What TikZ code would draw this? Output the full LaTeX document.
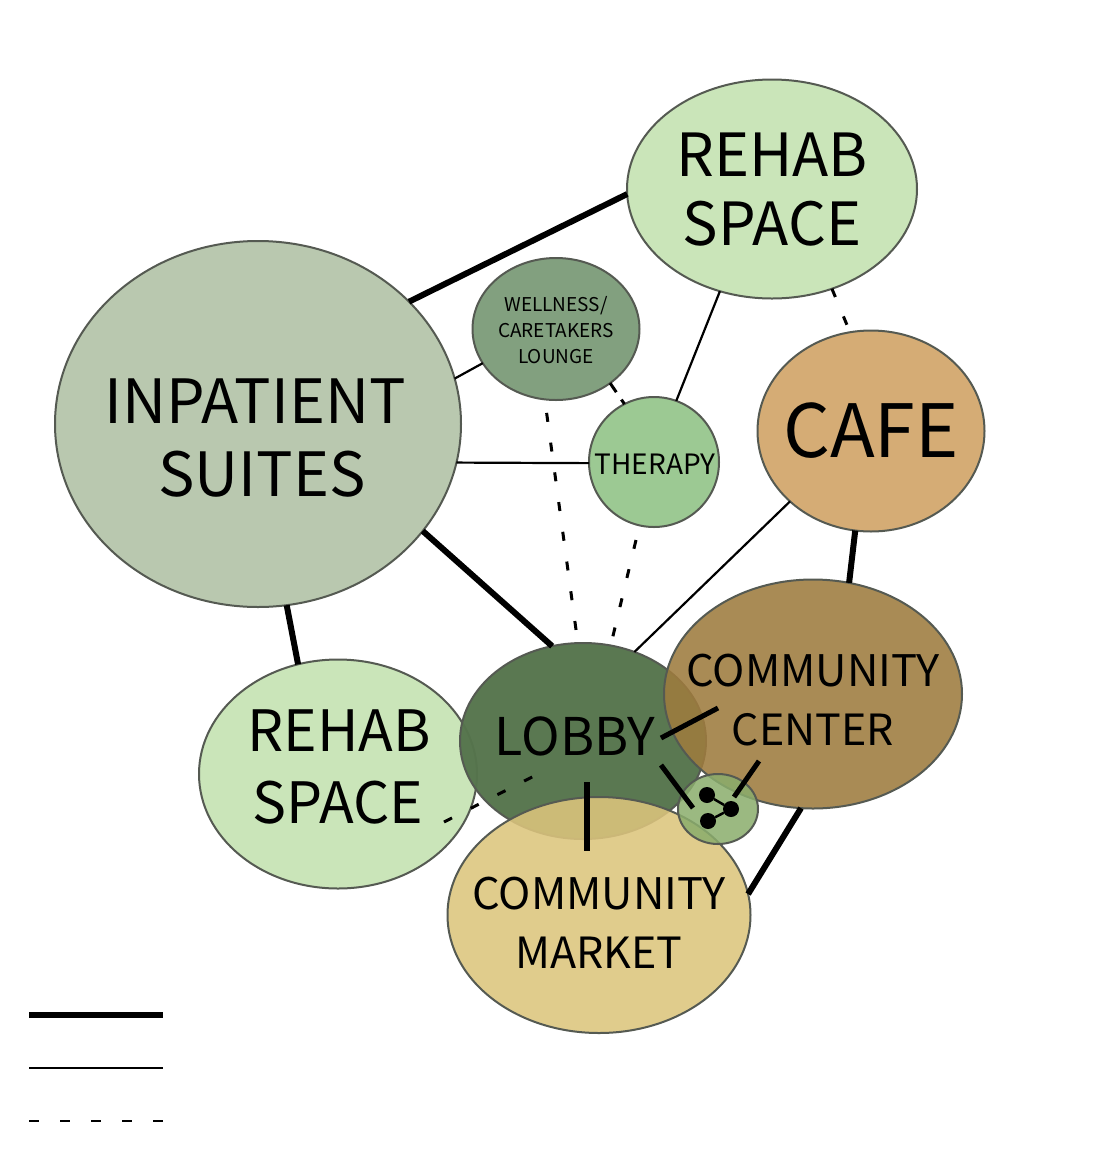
\documentclass[tikz,border=0pt]{standalone}
\usepackage{fontspec}
\setmainfont{Noto Sans CJK SC}
\usetikzlibrary{shapes.geometric}
\definecolor{cinp}{HTML}{B9C8AF}
\definecolor{creh}{HTML}{CAE5B9}
\definecolor{cwel}{HTML}{82A07F}
\definecolor{cthe}{HTML}{9CC993}
\definecolor{ccaf}{HTML}{D5AC75}
\definecolor{ccen}{HTML}{9E7C3E}
\definecolor{clob}{HTML}{55744C}
\definecolor{cmar}{HTML}{DCC57D}
\definecolor{csma}{HTML}{8AAD6C}
\definecolor{cedge}{HTML}{555A52}
\begin{document}
\begin{tikzpicture}[x=1pt,y=-1pt,
  blob/.style={ellipse,draw=cedge,line width=2pt,inner sep=0pt,outer sep=0pt},
  lbl/.style={inner sep=0pt,outer sep=0pt,text=black,font=\fontsize{#1}{#1}\selectfont},
  thickline/.style={line width=6pt,black},
  midline/.style={line width=5pt,black},
  thinline/.style={line width=2.2pt,black},
  dashline/.style={line width=3pt,black,dash pattern=on 9pt off 21pt},
  dotnode/.style={circle,fill=black,inner sep=0pt,outer sep=0pt,minimum size=16pt}]
\useasboundingbox (0,0) rectangle (1095,1163);
\fill[white] (0,0) rectangle (1095,1163);
% free ends
\coordinate (lobbyA) at (587,782);
\coordinate (marketA) at (587,851);
\coordinate (lobbyB) at (661,738);
\coordinate (centerB) at (718,708);
\coordinate (lobbyC) at (661,765);
\coordinate (smallC) at (693,808);
\coordinate (centerD) at (759,761);
\coordinate (smallD) at (734,797);
\coordinate (rehabE) at (444,822);
\coordinate (lobbyE) at (536,775);
\coordinate (wellF) at (545,401);
\coordinate (lobbyF) at (577,637);
\coordinate (therG) at (636,540);
\coordinate (lobbyG) at (612,640);
\coordinate (legA1) at (29,1015);
\coordinate (legA2) at (163,1015);
\coordinate (legB1) at (29,1068);
\coordinate (legB2) at (163,1068);
\coordinate (legC1) at (29,1121);
\coordinate (legC2) at (163,1121);
% blobs
\node[blob,fill=cinp,minimum width=406pt,minimum height=366pt] (inp) at (258,424) {};
\node[blob,fill=creh,minimum width=290pt,minimum height=219pt] (reht) at (772,189) {};
\node[blob,fill=cwel,minimum width=167pt,minimum height=142pt] (wel) at (556,329) {};
\node[blob,fill=cthe,minimum width=130pt,minimum height=130pt] (the) at (654,462) {};
\node[blob,fill=ccaf,minimum width=227pt,minimum height=201pt] (caf) at (871,431) {};
\node[blob,fill=creh,minimum width=278pt,minimum height=229pt] (rehl) at (338,774) {};
\node[blob,fill=clob,fill opacity=.97,minimum width=246pt,minimum height=196pt] (lob) at (583,741) {};
\node[blob,fill=ccen,fill opacity=.88,minimum width=298pt,minimum height=229pt] (cen) at (813,694) {};
\node[blob,fill=cmar,fill opacity=.88,minimum width=303pt,minimum height=236pt] (mar) at (599,915) {};
\node[blob,fill=csma,fill opacity=.85,minimum width=80pt,minimum height=70pt] (sma) at (718,809) {};
% thick connectors
\draw[thickline] (inp.39.6) -- (reht.182.8);
\draw[thickline] (inp.-33.8) -- (lob.108.6);
\draw[thickline] (inp.-81.9) -- (rehl.110.6);
\draw[thickline] (caf.-99.1) -- (cen.72.5);
\draw[thickline] (cen.-96.4) -- (mar.8.8);
\draw[thickline] (lobbyA) -- (marketA);
\draw[midline] (lobbyB) -- (centerB);
\draw[midline] (lobbyC) -- (smallC);
\draw[midline] (centerD) -- (smallD);
% thin connectors
\draw[thinline] (inp.13.6) -- (wel.205.3);
\draw[thinline] (inp.-11.1) -- (the.181);
\draw[thinline] (the.70.5) -- (reht.243.2);
\draw[thinline] (lob.60.5) -- (caf.221.2);
% dashed connectors
\draw[dashline,dash pattern=on 11pt off 9pt] (wel.-45) -- (the.117);
\draw[dashline] (reht.-59.1) -- (caf.102.8);
\draw[dashline,dash phase=18pt] (wellF) -- (lobbyF);
\draw[dashline] (therG) -- (lobbyG);
\draw[dashline] (rehabE) -- (lobbyE);
% dots
\node[dotnode] (d1) at (707,795) {};
\node[dotnode] (d2) at (708,821) {};
\node[dotnode] (d3) at (731,809) {};
\draw[line width=2.5pt] (d1) -- (d3);
\draw[line width=2.5pt] (d2) -- (d3);
% legend
\draw[line width=6pt] (legA1) -- (legA2);
\draw[line width=2.2pt] (legB1) -- (legB2);
\draw[line width=2.4pt,dash pattern=on 10pt off 21pt] (legC1) -- (legC2);
% labels
\node[lbl=61] (t1) at (255,401) {INPATIENT};
\node[lbl=61] (t2) at (262,474) {SUITES};
\node[lbl=59.5] (t3) at (772,155) {REHAB};
\node[lbl=59.5] (t4) at (772,224) {SPACE};
\node[lbl=19] (t5) at (556,306) {WELLNESS/};
\node[lbl=19] (t6) at (556,331) {CARETAKERS};
\node[lbl=19] (t7) at (556,357) {LOUNGE};
\node[lbl=28] (t8) at (655,464) {THERAPY};
\node[lbl=73.5] (t9) at (871,431) {CAFE};
\node[lbl=43.5] (t10) at (813,671) {COMMUNITY};
\node[lbl=43] (t11) at (813,730) {CENTER};
\node[lbl=52] (t12) at (575,736) {LOBBY};
\node[lbl=57] (t13) at (339,731) {REHAB};
\node[lbl=57] (t14) at (338,803) {SPACE};
\node[lbl=43.5] (t15) at (599,894) {COMMUNITY};
\node[lbl=43] (t16) at (599,953) {MARKET};
\end{tikzpicture}
\end{document}
